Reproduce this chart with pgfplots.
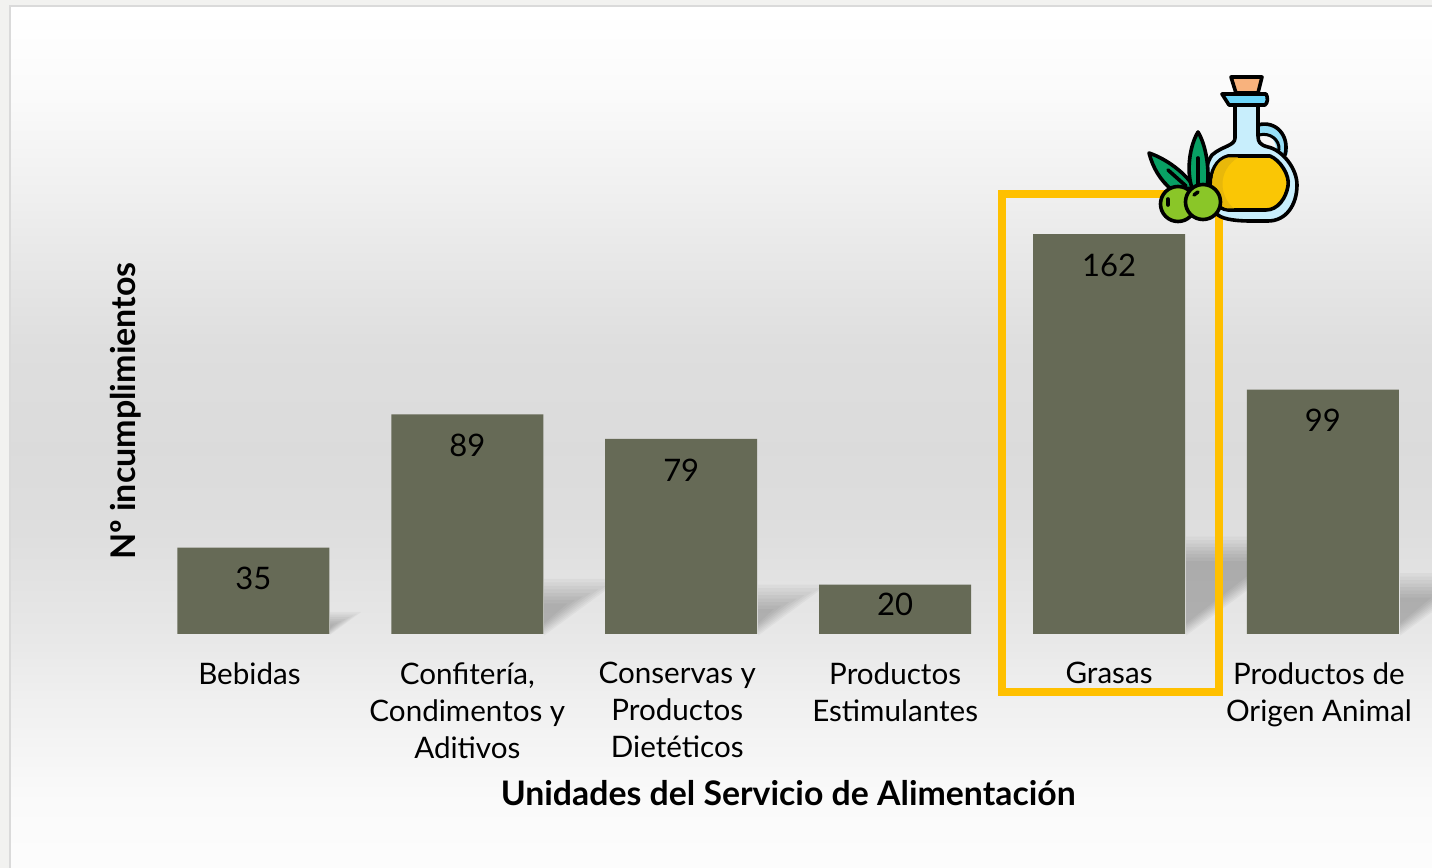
\documentclass[border=0pt]{standalone}
\usepackage{pgfplots}
\pgfplotsset{compat=1.18}
\usepackage{fontspec}
\setmainfont{Lato}
\definecolor{barcol}{HTML}{666A56}
\definecolor{frameY}{HTML}{FFC000}
\pgfdeclareverticalshading{bgsh}{100bp}{
color(0bp)=(white!99!black);
color(25bp)=(white!99!black);
color(28.95bp)=(white!98!black);
color(34.76bp)=(white!94!black);
color(38.24bp)=(white!91!black);
color(44.6bp)=(white!87!black);
color(49.3bp)=(white!86!black);
color(55.1bp)=(white!87!black);
color(60.5bp)=(white!91!black);
color(64.2bp)=(white!94!black);
color(69.6bp)=(white!98!black);
color(71.9bp)=(white!99!black);
color(74.8bp)=(white);
color(100bp)=(white)}
\pgfplotstableread{
x v s
0 35 -15.5
1 89 -15.5
2 79 -15.5
3 20 -10
4 162 -15.5
5 99 -15.5
}\datatab
\begin{document}
\begin{tikzpicture}
\useasboundingbox (0pt,0pt) rectangle (716pt,434pt);
\clip (0pt,0pt) rectangle (716pt,434pt);
\begin{scope}[x=0.5pt,y=-0.5pt,shift={(0pt,434pt)}]
\fill[fill={rgb,255:red,242;green,242;blue,240}] (0,0) rectangle (1432,868);
\shade[shading=bgsh] (10,6) rectangle (1432,868);
\fill[fill={rgb,255:red,218;green,218;blue,218}] (9,5) rectangle (1432,7);
\fill[fill={rgb,255:red,218;green,218;blue,218}] (9,5) rectangle (11,868);
% soft shadows
\foreach \R/\v in {330/35,544/89,758/79,1186/162,1400/99}{
  \pgfmathsetmacro{\H}{0.58*\v}
  \pgfmathsetmacro{\T}{634-\H}
  \pgfmathsetmacro{\u}{min(1,\H/40)}
  \foreach \k in {-1,...,6}{
    \pgfmathsetmacro{\d}{\k*3.5*\u}
    \fill[black,opacity=0.03] (\R,\T+\d) -- ({\R+1.35*\H-2.2*\d},\T+\d) -- (\R,{634-0.5*\d}) -- cycle;
  }
}
\end{scope}
\begin{axis}[
  at={(73.25pt,117pt)},anchor=south west,
  scale only axis,width=641.7pt,height=246.9pt,
  xmin=-0.5,xmax=5.5,ymin=0,ymax=200,
  axis line style={draw=none},
  ymajorticks=false,
  xtick=data,
  major tick length=0pt,
  /pgf/number format/assume math mode=true,
  xticklabels={
    {\hspace*{-4pt}Bebidas},
    {Confitería,\\Condimentos y\\Aditivos},
    {\hspace*{-4pt}Conservas y\\\hspace*{-4pt}Productos\\\hspace*{-4pt}Dietéticos},
    {Productos\\Estimulantes},
    {Grasas},
    {\hspace*{-4pt}Productos de\\\hspace*{-4pt}Origen Animal}},
  xticklabel style={align=center,anchor=north,font=\fontsize{14.8}{18.5}\selectfont,yshift=-14pt,inner sep=0pt,text=black},
  xlabel={\textbf{Unidades del Servicio de Alimentación}},
  xlabel style={at={(axis description cs:0.5,0)},anchor=center,yshift=-79.5pt,font=\fontsize{16.9}{20}\selectfont},
  ylabel={\textbf{Nº incumplimientos}},
  ylabel style={at={(axis description cs:-0.0163,0.4516)},anchor=center,font=\fontsize{17}{20}\selectfont},
  visualization depends on=\thisrow{s} \as \lshift,
  nodes near coords,
  nodes near coords style={anchor=center,yshift=\lshift pt,font=\fontsize{15.5}{18}\selectfont,text=black},
  clip=false,
]
\addplot[ybar,bar width=76pt,fill=barcol,draw=none] table[x=x,y=v] {\datatab};
\end{axis}
\begin{scope}[x=0.5pt,y=-0.5pt,shift={(0pt,434pt)}]
% highlight frame
\draw[frameY,line width=4pt] (1001.5,194) rectangle (1219,692);
% oil icon
\begin{scope}[line width=1.8pt,line join=round,line cap=round]
  % handle
  \draw[line width=6pt,draw={rgb,255:red,150;green,222;blue,246}] (1262,129) .. controls (1276,128) and (1283,140) .. (1282,152);
  \draw (1258,125) .. controls (1276,120) and (1290,136) .. (1285,155);
  \draw[line width=1.5pt] (1259,135) .. controls (1270,132) and (1280,140) .. (1279,150);
  % neck and body glass
  \filldraw[fill={rgb,255:red,200;green,238;blue,252}]
    (1235,105) -- (1235,138) .. controls (1235,146) and (1222,146) .. (1212,155)
    .. controls (1202,168) and (1202,205) .. (1218,215)
    .. controls (1224,220) and (1240,221) .. (1250,221) -- (1268,221)
    .. controls (1286,221) and (1297,205) .. (1297,185)
    .. controls (1297,168) and (1282,150) .. (1268,147)
    .. controls (1260,145) and (1258,142) .. (1258,136) -- (1258,105) -- cycle;
  % oil
  \filldraw[fill={rgb,255:red,250;green,198;blue,5},draw=black]
    (1228,156) -- (1270,156)
    .. controls (1280,160) and (1290,175) .. (1288,186)
    .. controls (1286,198) and (1278,210) .. (1266,210)
    -- (1228,210) .. controls (1205,208) and (1204,162) .. (1228,156) -- cycle;
  \fill[draw=none,fill={rgb,255:red,232;green,184;blue,10}] (1228,157.5) .. controls (1207,162) and (1207,205) .. (1228,208.5) -- (1234,208.5) .. controls (1218,195) and (1218,170) .. (1238,157.5) -- cycle;
  % lip
  \filldraw[fill={rgb,255:red,110;green,215;blue,250}] (1222,94) -- (1266,94) .. controls (1268,97) and (1268,103) .. (1265,105) -- (1229,105) -- cycle;
  % cork
  \filldraw[fill={rgb,255:red,248;green,178;blue,125}] (1231,77) -- (1262,77) -- (1258,93) -- (1236,93) -- cycle;
  % leaves
  \filldraw[fill={rgb,255:red,8;green,160;blue,100}] (1149,153) .. controls (1170,160) and (1190,178) .. (1194,188) -- (1172,190) .. controls (1160,180) and (1153,168) .. (1149,153) -- cycle;
  \filldraw[fill={rgb,255:red,8;green,160;blue,100}] (1198,132) .. controls (1206,145) and (1210,170) .. (1207,188) -- (1192,188) .. controls (1186,170) and (1190,145) .. (1198,132) -- cycle;
  \draw (1198,158) -- (1198,184);
  \draw (1168,170) -- (1186,186);
  % olives
  \filldraw[fill={rgb,255:red,138;green,198;blue,40}] (1178,204) circle[radius=17.5];
  \filldraw[fill={rgb,255:red,138;green,198;blue,40}] (1203,202) circle[radius=17.5];
  \draw (1168,199) -- (1168,205);
  \draw (1194,195) -- (1198,192);
\end{scope}
\end{scope}
\end{tikzpicture}
\end{document}
